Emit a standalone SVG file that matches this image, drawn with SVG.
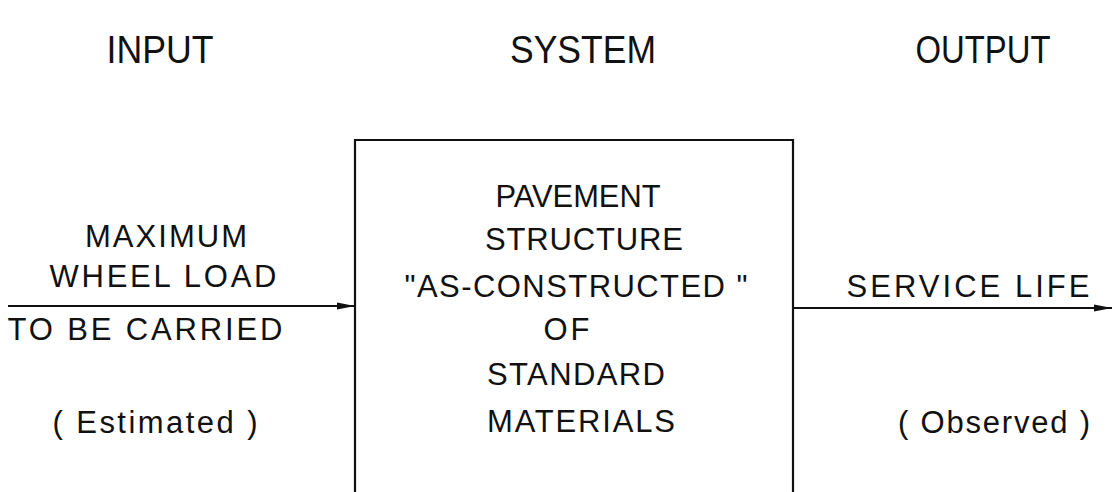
<svg xmlns="http://www.w3.org/2000/svg" width="1112" height="492" viewBox="0 0 1112 492">
<style>
.t{font-family:"Liberation Sans",Arial,sans-serif;font-size:38px;fill:#111;}
.b{font-family:"Liberation Sans",Arial,sans-serif;font-size:31px;fill:#111;}
.ln{stroke:#111;stroke-width:2.2;fill:none;}
</style>
<defs>
<marker id="ah" markerWidth="18" markerHeight="10" refX="18" refY="5" orient="auto" markerUnits="userSpaceOnUse">
<path d="M0,1.5 L18,5 L0,8.5 Z" fill="#111"/>
</marker>
</defs>
<g id="titles">
<text class="t" x="160" y="63" text-anchor="middle" textLength="107" lengthAdjust="spacingAndGlyphs">INPUT</text>
<text class="t" x="583" y="63" text-anchor="middle" textLength="146" lengthAdjust="spacingAndGlyphs">SYSTEM</text>
<text class="t" x="983" y="63" text-anchor="middle" textLength="135" lengthAdjust="spacingAndGlyphs">OUTPUT</text>
</g>
<g id="input">
<text class="b" x="166" y="247" text-anchor="middle" textLength="162" lengthAdjust="spacing">MAXIMUM</text>
<text class="b" x="163" y="287" text-anchor="middle" textLength="227" lengthAdjust="spacing">WHEEL  LOAD</text>
<text class="b" x="145" y="340" text-anchor="middle" textLength="275" lengthAdjust="spacing">TO BE CARRIED</text>
<text class="b" x="155" y="433" text-anchor="middle" textLength="205" lengthAdjust="spacing">( Estimated )</text>
</g>
<g id="system">
<path class="ln" d="M355,492 V140 H793 V492"/>
<text class="b" x="578" y="207" text-anchor="middle" textLength="165" lengthAdjust="spacingAndGlyphs">PAVEMENT</text>
<text class="b" x="584" y="250" text-anchor="middle" textLength="198" lengthAdjust="spacing">STRUCTURE</text>
<text class="b" x="576" y="297" text-anchor="middle" textLength="343" lengthAdjust="spacing">"AS-CONSTRUCTED "</text>
<text class="b" x="568" y="340" text-anchor="middle" letter-spacing="3">OF</text>
<text class="b" x="576" y="385" text-anchor="middle" textLength="178" lengthAdjust="spacing">STANDARD</text>
<text class="b" x="581" y="432" text-anchor="middle" textLength="188" lengthAdjust="spacing">MATERIALS</text>
</g>
<g id="output">
<text class="b" x="968" y="297" text-anchor="middle" textLength="243" lengthAdjust="spacing">SERVICE  LIFE</text>
<text class="b" x="994" y="433" text-anchor="middle" textLength="192" lengthAdjust="spacing">( Observed )</text>
</g>
<g id="connectors">
<line class="ln" x1="8" y1="306" x2="355" y2="306" marker-end="url(#ah)"/>
<line class="ln" x1="793" y1="308" x2="1112" y2="308" marker-end="url(#ah)"/>
</g>
</svg>
